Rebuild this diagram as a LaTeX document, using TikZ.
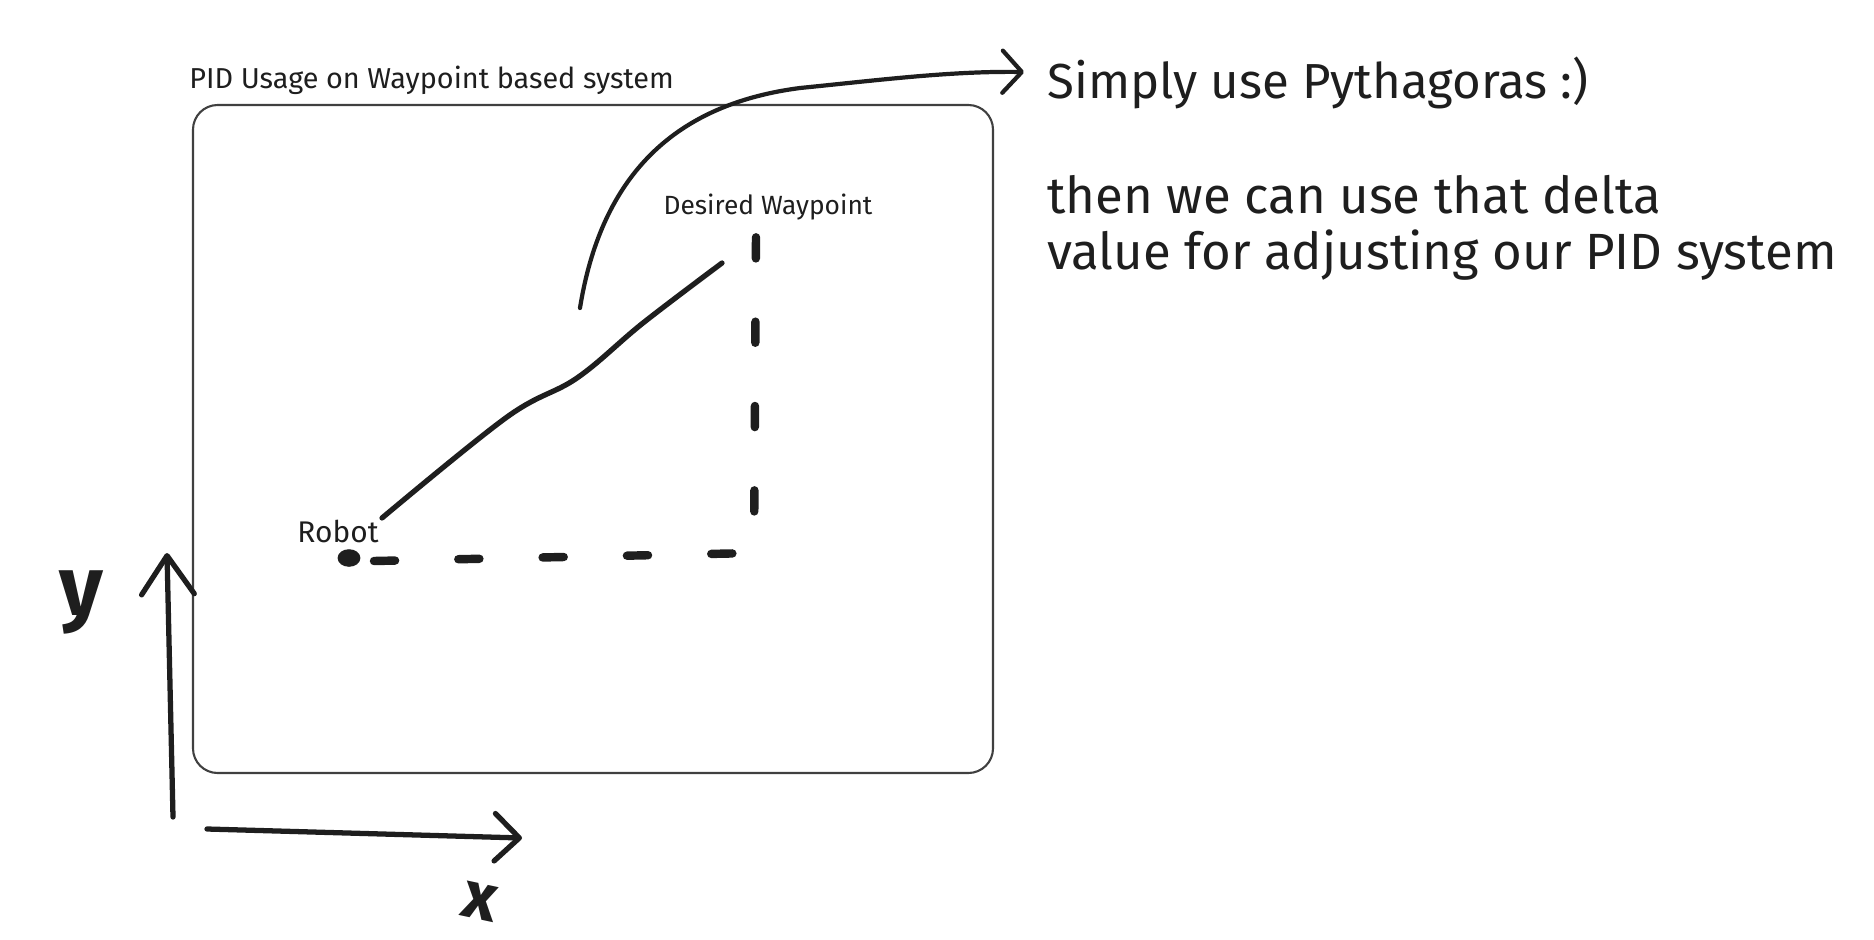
\documentclass[tikz,border=0pt]{standalone}
\usepackage{fontspec}
\setmainfont{Fira Sans}
\usepackage{xcolor}
\usetikzlibrary{arrows.meta,shapes.geometric}
\definecolor{ink}{HTML}{1E1E1E}
\tikzset{
  every picture/.style={line join=round, line cap=round, >=Stealth},
  boxline/.style={draw=ink!85, line width=1.2pt, rounded corners=14pt},
  inkline/.style={draw=ink, line width=2.8pt},
  dashline/.style={draw=ink, line width=4.8pt, dash pattern=on 12pt off 36pt},
  axisline/.style={draw=ink, line width=3pt},
  handtext/.style={text=ink, inner sep=0pt},
  robotdot/.style={ellipse, fill=ink, minimum width=13pt, minimum height=10pt, inner sep=0pt},
}

\begin{document}
\begin{tikzpicture}[x=0.02cm,y=-0.02cm]
\useasboundingbox (0,0) rectangle (1874,940);
\draw[boxline] (193,105) rectangle (993,773);
\node[handtext, anchor=base west, font=\fontsize{16.4}{19}\selectfont] (title) at (189,88) {PID Usage on Waypoint based system};
\node[robotdot] (robot) at (349,558) {};
\node[handtext, font=\fontsize{17}{20}\selectfont] (robotlbl) at (338,531) {Robot};
\node[handtext, font=\fontsize{15}{18}\selectfont] (wplbl) at (768,207) {Desired Waypoint};
\coordinate (wp) at (756,236);
\coordinate (corner) at (754,553);
\coordinate (hstart) at (374,561);
\coordinate (rstart) at (382,518);
\coordinate (wend) at (722,263);
\coordinate (pstart) at (580,308);
\coordinate (tip) at (1024,72);
\draw[inkline, line width=3pt] plot[smooth, tension=0.6] coordinates {(rstart) (507,417) (577,378) (643,323) (wend)};
\draw[dashline] (hstart) -- (corner) -- (wp);
\draw[inkline, line width=2.4pt, -{Straight Barb[round,length=11pt,width=24pt]}] (pstart) .. controls (603,165) and (685,103) .. (800,88) .. controls (880,80) and (950,71) .. (tip);
\node[handtext, anchor=base west, font=\fontsize{28}{33}\selectfont] (pyth) at (1047,98) {Simply use Pythagoras :)};
\node[handtext, anchor=base west, align=left, font=\fontsize{29}{31.7}\selectfont] (delta) at (1047,269) {then we can use that delta\\value for adjusting our PID system};
\coordinate (ybot) at (173,817);
\coordinate (ytop) at (167,553);
\coordinate (xleft) at (207,829);
\coordinate (xright) at (522,838);
\draw[axisline, -{Straight Barb[round,length=22pt,width=30pt]}] (ybot) -- (ytop);
\draw[axisline, -{Straight Barb[round,length=14pt,width=27pt]}] (xleft) -- (xright);
\node[handtext, font=\bfseries\fontsize{48}{48}\selectfont] (ylbl) at (81,602) {y};
\node[handtext, font=\bfseries\fontsize{38}{38}\selectfont, rotate=-12] (xlbl) at (480,902) {x};
\end{tikzpicture}
\end{document}
